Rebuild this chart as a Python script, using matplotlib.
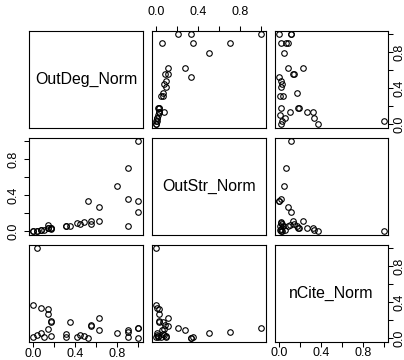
import matplotlib
matplotlib.use("Agg")
import matplotlib.pyplot as plt

plt.rcParams['font.family'] = ['Liberation Sans', 'DejaVu Sans']

# variables normalizadas (una fila por nodo)
nombres = ["OutDeg_Norm", "OutStr_Norm", "nCite_Norm"]
outdeg = [0.034, 0.0, 0.0, 0.069, 0.069, 0.034, 0.103, 0.138, 0.138, 0.138,
          0.172, 0.172, 0.172, 0.310, 0.310, 0.345, 0.414, 0.448, 0.483, 0.517,
          0.552, 0.552, 0.621, 0.621, 0.793, 0.897, 0.897, 0.897, 1.0, 1.0, 1.0]
outstr = [0.0, 0.0, 0.002, 0.006, 0.01, 0.004, 0.015, 0.07, 0.03, 0.027,
          0.027, 0.03, 0.02, 0.05, 0.06, 0.06, 0.09, 0.078, 0.094, 0.335,
          0.108, 0.082, 0.108, 0.27, 0.50, 0.70, 0.354, 0.052, 1.0, 0.33, 0.205]
ncite = [1.0, 0.37, 0.015, 0.335, 0.06, 0.03, 0.005, 0.10, 0.325, 0.27,
         0.19, 0.18, 0.02, 0.01, 0.04, 0.175, 0.015, 0.03, 0.02, 0.002,
         0.135, 0.14, 0.225, 0.085, 0.05, 0.07, 0.015, 0.09, 0.11, 0.003, 0.115]
datos = [outdeg, outstr, ncite]

ticks = [0.0, 0.2, 0.4, 0.6, 0.8, 1.0]
etiquetas = ['0.0', '', '0.4', '', '0.8', '']

W, H = 404, 360
fig = plt.figure(figsize=(W / 100, H / 100), dpi=100)

izq = [29.2, 152.0, 274.8]   # borde izquierdo de cada columna (px)
arr = [30.5, 137.5, 244.5]   # borde superior de cada fila (px)
ancho, alto = 113.5, 97.0

for i in range(3):        # fila
    for j in range(3):    # columna
        ax = fig.add_axes([izq[j] / W, 1 - (arr[i] + alto) / H, ancho / W, alto / H])
        ax.set_xlim(-0.04, 1.04)
        ax.set_ylim(-0.04, 1.04)
        for s in ax.spines.values():
            s.set_linewidth(0.8)
            s.set_color('black')
        ax.set_xticks(ticks)
        ax.set_yticks(ticks)
        ax.tick_params(direction='out', length=3.6, width=0.75, labelsize=9,
                       bottom=False, top=False, left=False, right=False,
                       labelbottom=False, labeltop=False, labelleft=False, labelright=False)
        if i == j:
            ax.text(0.5, 0.5, nombres[i], ha='center', va='center', fontsize=11.4,
                    transform=ax.transAxes)
        else:
            ax.plot(datos[j], datos[i], 'o', mfc='none', mec='black', ms=4.0, mew=0.8)

        # ejes alternados como en pairs()
        if i == 0 and j == 1:
            ax.tick_params(top=True, labeltop=True, pad=5.5)
            ax.set_xticklabels(etiquetas)
        if i == 2 and j in (0, 2):
            ax.tick_params(bottom=True, labelbottom=True, pad=0.8)
            ax.set_xticklabels(etiquetas)
        if j == 0 and i == 1:
            ax.tick_params(left=True, labelleft=True, pad=3.6)
            ax.set_yticklabels(etiquetas, rotation=90, va='center')
        if j == 2 and i in (0, 2):
            ax.tick_params(right=True, labelright=True, pad=0.0)
            ax.set_yticklabels(etiquetas, rotation=90, va='center')

fig.savefig('out.png', dpi=100)
